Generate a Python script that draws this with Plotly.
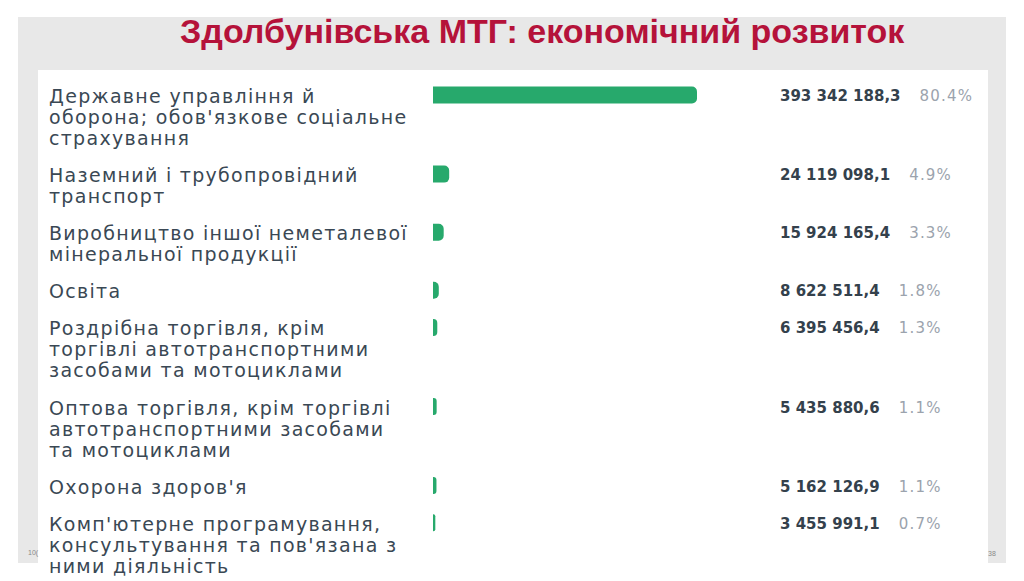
import plotly.graph_objects as go

# data
categories = [
    "Державне управління й<br>оборона; обов'язкове соціальне<br>страхування",
    "Наземний і трубопровідний<br>транспорт",
    "Виробництво іншої неметалевої<br>мінеральної продукції",
    "Освіта",
    "Роздрібна торгівля, крім<br>торгівлі автотранспортними<br>засобами та мотоциклами",
    "Оптова торгівля, крім торгівлі<br>автотранспортними засобами<br>та мотоциклами",
    "Охорона здоров'я",
    "Комп'ютерне програмування,<br>консультування та пов'язана з<br>ними діяльність",
]
amounts = [393342188.3, 24119098.1, 15924165.4, 8622511.4,
           6395456.4, 5435880.6, 5162126.9, 3455991.1]
shares = [80.4, 4.9, 3.3, 1.8, 1.3, 1.1, 1.1, 0.7]

title = "Здолбунівська МТГ: економічний розвиток"

W, H = 1024, 581
LINE_H = 21
ROW_GAP = 16.1
FIRST_Y = 96


def px(x):
    return x / W


def fmt(v):
    return f"{v:,.1f}".replace(",", " ").replace(".", ",")


# vertical position of every row, from how many text lines it has
row_y = []
y = FIRST_Y
for c in categories:
    row_y.append(y)
    y += len(c.split("<br>")) * LINE_H + ROW_GAP

fig = go.Figure()
fig.add_trace(go.Bar(
    x=amounts, y=[r - 1 for r in row_y], orientation="h",
    width=17, marker=dict(color="#27a96c", cornerradius=5, line_width=0),
    hoverinfo="skip",
))

annotations = []
for c, r, v, s in zip(categories, row_y, amounts, shares):
    for i, line in enumerate(c.split("<br>")):
        annotations.append(dict(
            text=f"<span style='letter-spacing:1.3px'>{line}</span>",
            x=px(47), xref="paper", y=r + i * LINE_H, yref="y",
            xanchor="left", yanchor="middle", showarrow=False,
            font=dict(family="DejaVu Sans", size=19, color="#3a4854"),
        ))
    annotations.append(dict(
        text=(f"<b>{fmt(v)}</b>    "
              f"<span style='color:#9ba3ad;letter-spacing:1.2px'>{s}%</span>"),
        x=px(778), xref="paper", y=r, yref="y",
        xanchor="left", yanchor="middle", showarrow=False,
        font=dict(family="DejaVu Sans", size=15, color="#34414c"),
    ))

annotations.append(dict(
    text=f"<b>{title}</b>", x=px(542), xref="paper", y=31, yref="y",
    xanchor="center", yanchor="middle", showarrow=False,
    font=dict(family="Liberation Sans", size=34, color="#b5123a"),
))
annotations.append(dict(
    text="10(", x=px(26), xref="paper", y=553, yref="y", xanchor="left",
    yanchor="middle", showarrow=False,
    font=dict(family="Liberation Sans", size=7, color="#888888"),
))
annotations.append(dict(
    text="38", x=px(998), xref="paper", y=553, yref="y", xanchor="right",
    yanchor="middle", showarrow=False,
    font=dict(family="Liberation Sans", size=7, color="#888888"),
))

shapes = [
    dict(type="rect", xref="paper", yref="y", x0=px(18), x1=px(1006), y0=17, y1=563,
         fillcolor="#e8e8e8", line_width=0, layer="below"),
    dict(type="rect", xref="paper", yref="y", x0=px(38), x1=px(988), y0=70, y1=H,
         fillcolor="#ffffff", line_width=0, layer="below"),
]

fig.update_layout(
    width=W, height=H,
    margin=dict(l=0, r=0, t=0, b=0),
    paper_bgcolor="#ffffff", plot_bgcolor="rgba(0,0,0,0)",
    showlegend=False,
    xaxis=dict(domain=[px(433), px(697)], range=[0, max(amounts)], visible=False, fixedrange=True),
    yaxis=dict(domain=[0, 1], range=[H, 0], visible=False, fixedrange=True),
    annotations=annotations, shapes=shapes,
)

fig.write_html("out.html", config={"displayModeBar": False},
               post_script="document.body.style.margin='0';")
